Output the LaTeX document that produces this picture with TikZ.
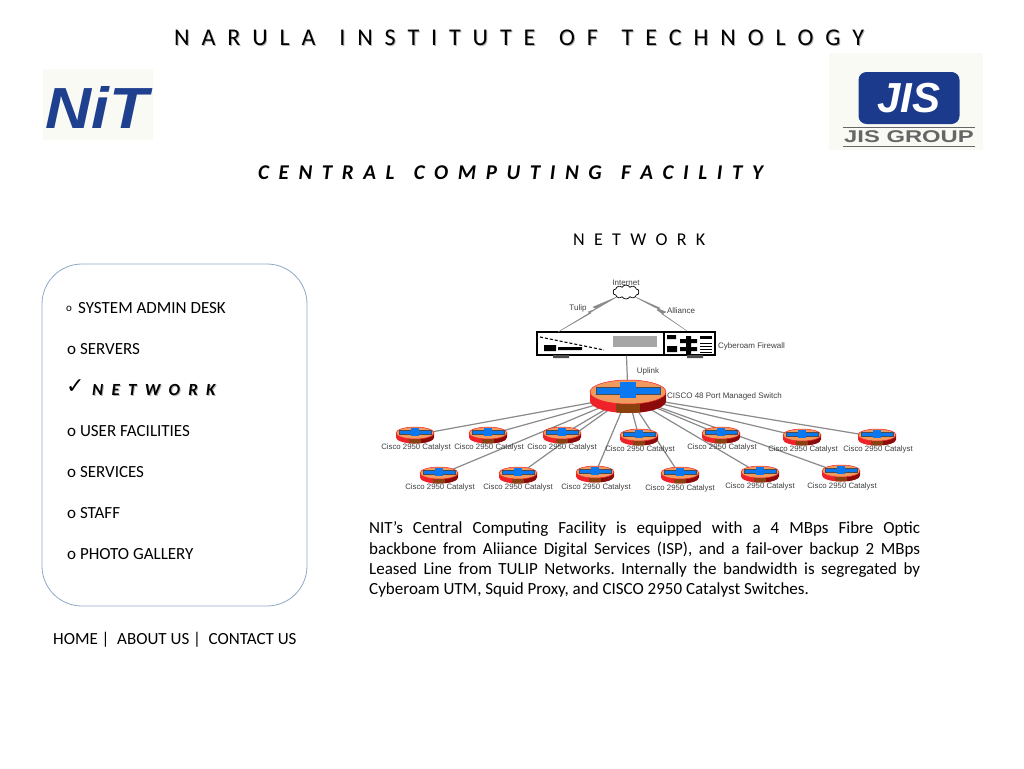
\documentclass[tikz,border=0pt]{standalone}
\usepackage{fontspec}
\setmainfont{Carlito}
\newfontfamily\labelfont{Liberation Sans}
\newfontfamily\markfont{DejaVu Sans}
\usetikzlibrary{shapes.symbols}
\definecolor{nitblue}{HTML}{1F3F8F}
\definecolor{jisblue}{HTML}{1B3A8C}
\definecolor{logopaper}{HTML}{FAFAF4}
\definecolor{boxline}{HTML}{8FA8C8}
\definecolor{linkgray}{HTML}{8A8A8A}
\definecolor{topcol}{HTML}{F09A60}
\definecolor{crosscol}{HTML}{0A78F0}
\definecolor{brickcol}{HTML}{EE2228}
\definecolor{browncol}{HTML}{8B4010}
\definecolor{darkcol}{HTML}{8B0A0A}
\newcommand{\fs}[1]{\fontsize{#1}{#1}\selectfont}
\newcommand{\gap}[1]{\spaceskip=#1\relax}
\newcommand{\shadowed}[1]{\rlap{\kern1pt\raisebox{-1pt}{\color{black!30}#1}}#1}
\begin{document}
\begin{tikzpicture}[x=1pt,y=-1pt,
    heading/.style={anchor=west,text=black,inner sep=0pt},
    menu/.style={anchor=west,inner sep=0pt,font=\fs{17}},
    tiny/.style={inner sep=0pt,text=black!75,font=\labelfont\fs{8}},
    catalyst/.style={inner sep=0pt,text=black!75,font=\labelfont\fs{7.8}},
    link/.style={draw=linkgray,line width=1.2pt},
    bolt/.style={draw=linkgray,fill=linkgray,line width=.4pt},
    pics/router/.style={code={
        \fill[brickcol] (-19,-2) -- (-19,2.5) arc[start angle=180,end angle=0,x radius=19,y radius=6] -- (19,-2) -- cycle;
        \begin{scope}
            \clip (-19,-2) -- (-19,2.5) arc[start angle=180,end angle=0,x radius=19,y radius=6] -- (19,-2) -- cycle;
            \fill[browncol] (-6,-3) rectangle (6,9);
            \fill[darkcol] (6,-3) rectangle (19,9);
        \end{scope}
        \fill[topcol,draw=brickcol,line width=.5pt] (0,-2) ellipse[x radius=19,y radius=6];
        \fill[crosscol,draw=black!70,line width=.4pt] (-16,-4.5) rectangle (16,-.8);
        \fill[crosscol] (-4,-7) rectangle (4,1);
    }},
]
\useasboundingbox (0,0) rectangle (1024,768);
\fill[white] (0,0) rectangle (1024,768);

% headings
\node[heading,font=\fs{24}\gap{11.9pt}] (title) at (174,38) {\shadowed{N A R U L A \ I N S T I T U T E \ O F \ T E C H N O L O G Y}};
\node[heading,font=\bfseries\itshape\fs{21}\gap{9.6pt}] (subtitle) at (258,173) {C E N T R A L \ C O M P U T I N G \ F A C I L I T Y};
\node[heading,font=\fs{18}\gap{9.3pt}] (page) at (573,240) {N E T W O R K};

% logos
\node[fill=logopaper,minimum width=110,minimum height=71,inner sep=0pt] (nit) at (98,104.5) {};
\node[inner sep=0pt,text=nitblue,xscale=1.1,font=\labelfont\bfseries\itshape\fs{58}] (nitmark) at (97,107) {NiT};
\node[fill=logopaper,minimum width=154,minimum height=97,inner sep=0pt] (jis) at (906,101.5) {};
\node[fill=jisblue,rounded corners=8pt,minimum width=101,minimum height=52,inner sep=0pt] (jisbox) at (909,98) {};
\node[inner sep=0pt,text=white,font=\labelfont\bfseries\itshape\fs{42}] (jismark) at (909,98) {JIS};
\node[inner sep=0pt,text=black!60,xscale=1.4,font=\labelfont\bfseries\fs{17}] (jisname) at (909,136.5) {JIS GROUP};
\draw[black!60,line width=.8pt] (843,127) -- (975,127) (843,146) -- (975,146);

% menu
\draw[boxline,line width=.8pt,rounded corners=40pt] (42,264) rectangle (307,606);
\node[menu,font=\fs{11}] (b1) at (66,309) {o};
\node[menu] (m1) at (78,308.5) {SYSTEM ADMIN DESK};
\node[menu] (m2) at (67,349) {o SERVERS};
\node[menu,font=\markfont\fs{22}] (b3) at (66,387) {✓};
\node[menu,font=\bfseries\itshape\fs{17}\gap{8.3pt}] (m3) at (92,390) {\shadowed{N E T W O R K}};
\node[menu] (m4) at (67,431) {o USER FACILITIES};
\node[menu] (m5) at (67,472) {o SERVICES};
\node[menu] (m6) at (67,513) {o STAFF};
\node[menu] (m7) at (67,554) {o PHOTO GALLERY};
\node[menu] (foot) at (53,640) {HOME |\ \ ABOUT US |\ \ CONTACT US};

% network
\coordinate (sw) at (628,396);
\foreach \id/\x/\y in {r1/415/435,r2/488/435,r3/562/435,r4/639/437,r5/721/435,r6/802/437,r7/877/437,
    s1/439/475,s2/518/475,s3/595/474,s4/680/475,s5/760/474,s6/841/473} {
    \coordinate (\id) at (\x,\y);
    \draw[link] (sw) -- (\id);
}
\node[cloud,draw=black,fill=white,cloud puffs=10,cloud puff arc=120,aspect=2,minimum width=26,minimum height=14,inner sep=0pt,line width=.7pt] (inet) at (626,292) {};
\node[draw=black,fill=white,line width=1.3pt,minimum width=178,minimum height=23,inner sep=0pt] (fw) at (626,343.5) {};
\coordinate (fwl) at (558,332);
\coordinate (fwr) at (687,331);
\draw[bolt] (inet.south west) -- (593,307) -- (596,309) -- (fwl) -- (591,313) -- (588,312) -- (597,308.5) -- cycle;
\draw[bolt] (inet.south east) -- (660,308) -- (657,310) -- (fwr) -- (662,314) -- (666,312) -- (654,307) -- cycle;
\draw[link] (fw) -- (sw);
\fill[black!70] (553,355) rectangle (569,358) (687,355) rectangle (703,358);
\draw[black,line width=1.3pt] (664,332) -- (664,355);
\fill[black!35] (613,336) rectangle (657,347);
\draw[black,line width=1.1pt,dash pattern=on 3pt off 2pt] (540,337) -- (604,350);
\fill[black] (544,345) rectangle (556,351) (558,347) rectangle (582,350);
\fill[black] (667,335) rectangle (676,339) (667,346) rectangle (677,352) (680,339) rectangle (697,343) (680,347) rectangle (697,351) (686,336) rectangle (691,354);
\fill[black] (700,336) rectangle (712,339);
\draw[black,line width=.7pt] (700,343) -- (712,343) (700,346) -- (712,346) (700,349) -- (712,349) (700,352) -- (712,352);

\pic[scale=2] at (sw) {router};
\foreach \id in {r1,r2,r3,r4,r5,r6,r7,s1,s2,s3,s4,s5,s6}
    \pic at (\id) {router};

\node[tiny] (inetlabel) at (626,282.5) {Internet};
\node[tiny] (tuliplabel) at (578,308.5) {Tulip};
\node[tiny] (alliancelabel) at (681,310.5) {Alliance};
\node[tiny,anchor=west] (fwlabel) at (718,346.5) {Cyberoam Firewall};
\node[tiny] (uplinklabel) at (648,371.5) {Uplink};
\node[tiny,anchor=west] (swlabel) at (667,396.5) {CISCO 48 Port Managed Switch};
\foreach \id/\x/\y in {r1/416/447.5,r2/489/447.5,r3/562/447.5,r4/640/449.5,r5/722/447.5,r6/803/449.5,r7/878/449.5,
    s1/440/487.5,s2/518/487.5,s3/596/487.5,s4/680/488.5,s5/760/486.5,s6/842/486.5}
    \node[catalyst] (\id label) at (\x,\y) {Cisco 2950 Catalyst};

% description
\node[anchor=north west,inner sep=0pt,text width=551pt,align=justify,font=\frenchspacing\fontsize{17}{20.4}\selectfont] (about) at (369,521.5)
    {NIT’s Central Computing Facility is equipped with a 4 MBps Fibre Optic\linebreak backbone from Aliiance Digital Services (ISP), and a fail-over backup 2 MBps\linebreak Leased Line from TULIP Networks. Internally the bandwidth is segregated by\linebreak Cyberoam UTM, Squid Proxy, and CISCO 2950 Catalyst Switches.};
\end{tikzpicture}
\end{document}
